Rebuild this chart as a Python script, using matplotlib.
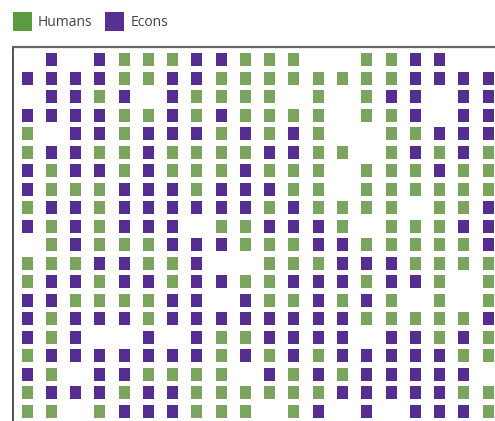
import matplotlib
matplotlib.use("Agg")
import matplotlib.pyplot as plt
from matplotlib.patches import Rectangle

# Grid of respondents: H = Humans, E = Econs, . = empty
grid_rows = [
    ".E.EHHHEEHHH..HHEE..",
    "EEEEHHEEHHHHHHHHEEEE",
    ".EEHE.EHHHH.H.HEE.EE",
    "EEEEHHEHEHHHH.HHE.EE",
    "H.EEHEEEHEHEH..HHEEE",
    "HEEHHEHHHHEEHH.HEHEH",
    "EHEEHEHHHEHHH.HHHEHH",
    "EHHHEEEHEEEHH.HHHHHH",
    "HEEHEEEEEEHEHHHH.HHE",
    "EHEHEEE.HHEEEH.HHHEE",
    ".HEHHHEEEHHHEEHHHHHE",
    "HHHEEHHE..HHHEEEHHHH",
    "HEEHEEHEEHHEEEHEEH.H",
    "EEHHHHEE.EHHEHEH.H.H",
    "EHEEEHEEEEEEEEHHHHHE",
    "EHE..E.EHHEEEE.EEHEH",
    "HEEEEEEEHEHEHEEEEEHH",
    "EH.EEHHHH.EHEHEEEEE.",
    "HEEEHEEHHHHHHEEEEEHH",
    "HH.HEEEHHH.HE.E.EEEH",
]
labels = ["Humans", "Econs"]
codes = ["H", "E"]

W, H = 495, 421
DPI = 100
fig = plt.figure(figsize=(W / DPI, H / DPI), dpi=DPI)

col_pitch = 24.27
row_pitch = 18.5
ax_left_px, ax_top_px = 13, 47
ax_right_px, ax_bottom_px = 520, 440
x0 = (27 - ax_left_px) / col_pitch
y0 = (60 - ax_top_px) / row_pitch

ax = fig.add_axes([ax_left_px / W, 1 - ax_bottom_px / H,
                   (ax_right_px - ax_left_px) / W, (ax_bottom_px - ax_top_px) / H])
ax.set_xlim(-x0, -x0 + (ax_right_px - ax_left_px) / col_pitch)
ax.set_ylim(-y0 + (ax_bottom_px - ax_top_px) / row_pitch, -y0)

grid_colors = {"H": "#7BA55F", "E": "#562D91"}
legend_colors = {"H": "#5B9A3E", "E": "#582F93"}
sq_w = 11 / col_pitch
sq_h = 13 / row_pitch

for code in codes:
    xs, ys = [], []
    for r, row in enumerate(grid_rows):
        for c, ch in enumerate(row):
            if ch == code:
                xs.append(c)
                ys.append(r)
    ax.bar(xs, [sq_h] * len(xs), width=sq_w, bottom=[y - sq_h / 2 for y in ys],
           color=grid_colors[code], linewidth=0)

ax.set_xticks([])
ax.set_yticks([])
for s in ["right", "bottom"]:
    ax.spines[s].set_visible(False)
ax.spines["top"].set_color("#666666")
ax.spines["top"].set_linewidth(1.6)
ax.spines["left"].set_color("#333333")
ax.spines["left"].set_linewidth(1.2)

# Legend
legend_items = [(13, 38), (105, 131)]
for (sx, tx), code, lab in zip(legend_items, codes, labels):
    fig.add_artist(Rectangle((sx / W, 1 - 31 / H), 19 / W, 19 / H,
                             transform=fig.transFigure, color=legend_colors[code], lw=0))
    fig.text(tx / W, 1 - 22 / H, lab, fontsize=10, color="#444444",
             family=["Open Sans", "DejaVu Sans"], va="center", ha="left")

fig.savefig("out.png", dpi=DPI)
